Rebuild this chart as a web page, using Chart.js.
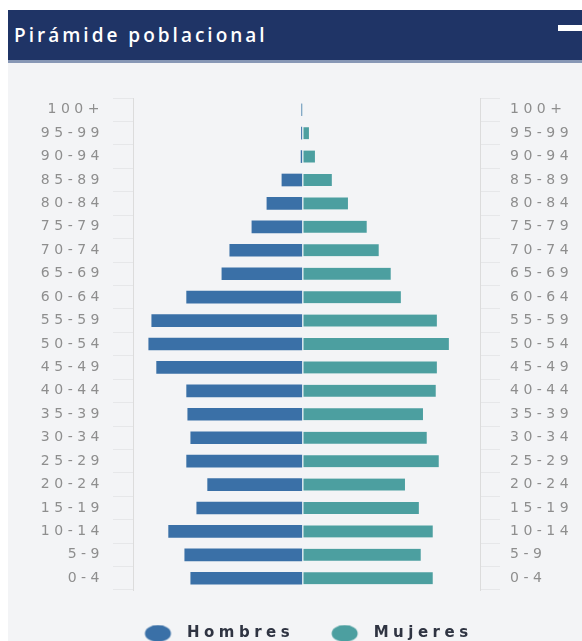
<!DOCTYPE html>
<html>
<head>
<meta charset="utf-8">
<script src="https://cdn.jsdelivr.net/npm/chart.js@4.4.0/dist/chart.umd.min.js"></script>
<style>
  html, body { margin: 0; padding: 0; background: #fff; }
  body { width: 582px; height: 641px; overflow: hidden; position: relative; font-family: "Open Sans", sans-serif; }
  #cabecera { position: absolute; left: 8px; top: 10px; width: 574px; height: 50px; background: #1f3466; border-bottom: 3px solid #8797b5; }
  #cabecera h1 { margin: 0; position: absolute; left: 6px; top: 12px; color: #fff; font-size: 19px; font-weight: 600; letter-spacing: 3px; }
  #cabecera .menos { position: absolute; right: 0; top: 15px; width: 24px; height: 6px; background: #fff; }
  #panel { position: absolute; left: 8px; top: 63px; width: 574px; height: 600px; background: #f3f4f6; }
  #panel canvas { position: absolute; left: 0; top: -1px; }
</style>
</head>
<body>
<div id="cabecera"><h1>Pirámide poblacional</h1><div class="menos"></div></div>
<div id="panel"><canvas id="myChart" width="574" height="600"></canvas></div>
<script>
// grupos de edad, de arriba hacia abajo
let edades = ['100+', '95-99', '90-94', '85-89', '80-84', '75-79', '70-74', '65-69', '60-64', '55-59', '50-54',
    '45-49', '40-44', '35-39', '30-34', '25-29', '20-24', '15-19', '10-14', '5-9', '0-4'];
// % de la poblacion
let hombres = [0, 0.01, 0.02, 0.53, 0.93, 1.33, 1.92, 2.13, 3.07, 4.0, 4.08,
    3.87, 3.07, 3.04, 2.96, 3.07, 2.51, 2.8, 3.55, 3.12, 2.96];
let mujeres = [0.01, 0.19, 0.35, 0.8, 1.23, 1.73, 2.05, 2.37, 2.64, 3.6, 3.92,
    3.6, 3.57, 3.23, 3.33, 3.65, 2.75, 3.12, 3.49, 3.17, 3.49];

let colorHombres = '#3a70a7';
let colorMujeres = '#4c9fa0';

// hombres a la izquierda
let hombresNeg = [];
for (let i = 0; i < hombres.length; i++) {
    hombresNeg.push(-hombres[i]);
}

// punto de leyenda ovalado
function ovalo(color) {
    let c = document.createElement('canvas');
    c.width = 62;
    c.height = 18;
    let g = c.getContext('2d');
    g.fillStyle = color;
    g.beginPath();
    g.ellipse(40.5, 9, 13, 8.5, 0, 0, Math.PI * 2);
    g.fill();
    return c;
}
let ovalos = [ovalo(colorHombres), ovalo(colorMujeres)];

let espaciado = {
    id: 'espaciado',
    beforeLayout(chart) { chart.ctx.letterSpacing = '4.5px'; },
    beforeDraw(chart) { chart.ctx.letterSpacing = '4.5px'; }
};

let ticksGrid = {
    display: true,
    drawOnChartArea: false,
    drawTicks: true,
    tickLength: 20,
    color: 'rgba(0,0,0,0.05)'
};

let ctx = document.getElementById('myChart').getContext('2d');
let myChart = new Chart(ctx, {
    type: 'bar',
    data: {
        labels: edades,
        datasets: [{
            label: 'Hombres',
            data: hombresNeg,
            backgroundColor: colorHombres,
            barThickness: 12
        }, {
            label: 'Mujeres',
            data: mujeres,
            backgroundColor: colorMujeres,
            borderColor: '#eef6f8',
            borderWidth: { left: 2, right: 0, top: 0, bottom: 0 },
            borderSkipped: false,
            barThickness: 12
        }]
    },
    options: {
        indexAxis: 'y',
        responsive: false,
        animation: false,
        layout: { padding: { left: 0, right: 0, top: 36, bottom: 11 } },
        scales: {
            x: {
                stacked: true,
                min: -4.5,
                max: 4.75,
                ticks: { display: false },
                grid: { display: false },
                border: { display: false },
                afterFit: function (s) { s.height = 26; }
            },
            y: {
                stacked: true,
                position: 'left',
                grid: ticksGrid,
                border: { display: true, color: '#dcdcdc' },
                ticks: {
                    color: '#8e8e8e',
                    padding: 9,
                    font: { family: 'DejaVu Sans', size: 14 }
                },
                afterFit: function (s) { s.width = 125; }
            },
            y2: {
                type: 'category',
                labels: edades,
                position: 'right',
                offset: true,
                grid: ticksGrid,
                border: { display: true, color: '#dcdcdc' },
                ticks: {
                    color: '#8e8e8e',
                    padding: 10,
                    font: { family: 'DejaVu Sans', size: 14 }
                },
                afterFit: function (s) { s.width = 102; }
            }
        },
        plugins: {
            tooltip: { enabled: false },
            legend: {
                position: 'bottom',
                labels: {
                    usePointStyle: true,
                    pointStyleWidth: 62,
                    padding: 10,
                    color: '#2f3442',
                    font: { family: 'DejaVu Sans', size: 15, weight: 'bold' },
                    generateLabels: function (chart) {
                        let items = Chart.defaults.plugins.legend.labels.generateLabels(chart);
                        items.forEach(function (it, i) { it.pointStyle = ovalos[i]; });
                        return items;
                    }
                }
            }
        }
    },
    plugins: [espaciado]
});
</script>
</body>
</html>
